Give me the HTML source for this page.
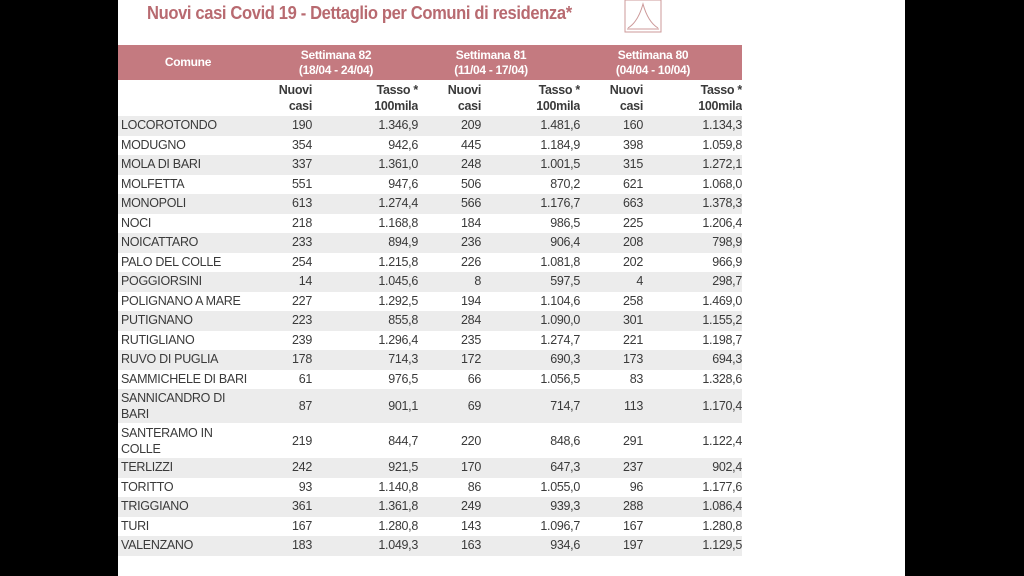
<!DOCTYPE html>
<html><head><meta charset="utf-8">
<style>
html,body{margin:0;padding:0;width:1024px;height:576px;overflow:hidden;background:#000;}
#page{position:absolute;left:118px;top:0;width:787px;height:576px;background:#fff;}
.title{position:absolute;left:147px;top:3px;font:bold 18px "Liberation Sans",sans-serif;color:#b86a70;letter-spacing:-0.4px;transform:scaleX(0.92);transform-origin:left;}
table{position:absolute;left:118px;top:45px;border-collapse:collapse;table-layout:fixed;font-family:"Liberation Sans",sans-serif;font-size:12.5px;color:#3a3a3a;letter-spacing:-0.3px;}
td,th{padding:0;overflow:hidden;white-space:nowrap;}
th.h{background:#c47a80;color:#fff;font-weight:bold;font-size:12px;line-height:15px;height:35px;text-align:center;padding-right:16px;}
th.c{padding-right:12px;}
tr.sub td{font-weight:bold;line-height:16px;height:36px;text-align:right;vertical-align:middle;}
td{text-align:right;height:19.5px;line-height:19.5px;}
td.n{text-align:left;padding-left:3px;}
tr.g td{background:#ececec;}
tr.two td{line-height:16px;}
</style></head><body>
<div id="page"></div>
<div class="title">Nuovi casi Covid 19 - Dettaglio per Comuni di residenza*</div>
<svg style="position:absolute;left:624px;top:0" width="38" height="34"><rect x="1" y="0" width="36" height="32" fill="none" stroke="#c99" stroke-width="1"/><path d="M4 28 Q14 22 19 4 Q24 22 34 28" fill="none" stroke="#c99"/><line x1="3" y1="29" x2="35" y2="29" stroke="#c99"/></svg>
<table>
<colgroup><col style="width:152px"><col style="width:42px"><col style="width:106px"><col style="width:63px"><col style="width:99px"><col style="width:63px"><col style="width:99px"></colgroup>
<tr><th class="h c">Comune</th><th class="h" colspan="2">Settimana 82<br>(18/04 - 24/04)</th><th class="h" colspan="2">Settimana 81<br>(11/04 - 17/04)</th><th class="h" colspan="2">Settimana 80<br>(04/04 - 10/04)</th></tr>
<tr class="sub"><td></td><td>Nuovi<br>casi</td><td>Tasso *<br>100mila</td><td>Nuovi<br>casi</td><td>Tasso *<br>100mila</td><td>Nuovi<br>casi</td><td>Tasso *<br>100mila</td></tr>
<tr class="g"><td class="n">LOCOROTONDO</td><td>190</td><td>1.346,9</td><td>209</td><td>1.481,6</td><td>160</td><td>1.134,3</td></tr>
<tr><td class="n">MODUGNO</td><td>354</td><td>942,6</td><td>445</td><td>1.184,9</td><td>398</td><td>1.059,8</td></tr>
<tr class="g"><td class="n">MOLA DI BARI</td><td>337</td><td>1.361,0</td><td>248</td><td>1.001,5</td><td>315</td><td>1.272,1</td></tr>
<tr><td class="n">MOLFETTA</td><td>551</td><td>947,6</td><td>506</td><td>870,2</td><td>621</td><td>1.068,0</td></tr>
<tr class="g"><td class="n">MONOPOLI</td><td>613</td><td>1.274,4</td><td>566</td><td>1.176,7</td><td>663</td><td>1.378,3</td></tr>
<tr><td class="n">NOCI</td><td>218</td><td>1.168,8</td><td>184</td><td>986,5</td><td>225</td><td>1.206,4</td></tr>
<tr class="g"><td class="n">NOICATTARO</td><td>233</td><td>894,9</td><td>236</td><td>906,4</td><td>208</td><td>798,9</td></tr>
<tr><td class="n">PALO DEL COLLE</td><td>254</td><td>1.215,8</td><td>226</td><td>1.081,8</td><td>202</td><td>966,9</td></tr>
<tr class="g"><td class="n">POGGIORSINI</td><td>14</td><td>1.045,6</td><td>8</td><td>597,5</td><td>4</td><td>298,7</td></tr>
<tr><td class="n">POLIGNANO A MARE</td><td>227</td><td>1.292,5</td><td>194</td><td>1.104,6</td><td>258</td><td>1.469,0</td></tr>
<tr class="g"><td class="n">PUTIGNANO</td><td>223</td><td>855,8</td><td>284</td><td>1.090,0</td><td>301</td><td>1.155,2</td></tr>
<tr><td class="n">RUTIGLIANO</td><td>239</td><td>1.296,4</td><td>235</td><td>1.274,7</td><td>221</td><td>1.198,7</td></tr>
<tr class="g"><td class="n">RUVO DI PUGLIA</td><td>178</td><td>714,3</td><td>172</td><td>690,3</td><td>173</td><td>694,3</td></tr>
<tr><td class="n">SAMMICHELE DI BARI</td><td>61</td><td>976,5</td><td>66</td><td>1.056,5</td><td>83</td><td>1.328,6</td></tr>
<tr class="g two"><td class="n" style="height:34px">SANNICANDRO DI<br>BARI</td><td>87</td><td>901,1</td><td>69</td><td>714,7</td><td>113</td><td>1.170,4</td></tr>
<tr class="two"><td class="n" style="height:35px">SANTERAMO IN<br>COLLE</td><td>219</td><td>844,7</td><td>220</td><td>848,6</td><td>291</td><td>1.122,4</td></tr>
<tr class="g"><td class="n">TERLIZZI</td><td>242</td><td>921,5</td><td>170</td><td>647,3</td><td>237</td><td>902,4</td></tr>
<tr><td class="n">TORITTO</td><td>93</td><td>1.140,8</td><td>86</td><td>1.055,0</td><td>96</td><td>1.177,6</td></tr>
<tr class="g"><td class="n">TRIGGIANO</td><td>361</td><td>1.361,8</td><td>249</td><td>939,3</td><td>288</td><td>1.086,4</td></tr>
<tr><td class="n">TURI</td><td>167</td><td>1.280,8</td><td>143</td><td>1.096,7</td><td>167</td><td>1.280,8</td></tr>
<tr class="g"><td class="n">VALENZANO</td><td>183</td><td>1.049,3</td><td>163</td><td>934,6</td><td>197</td><td>1.129,5</td></tr>
</table>
</body></html>
